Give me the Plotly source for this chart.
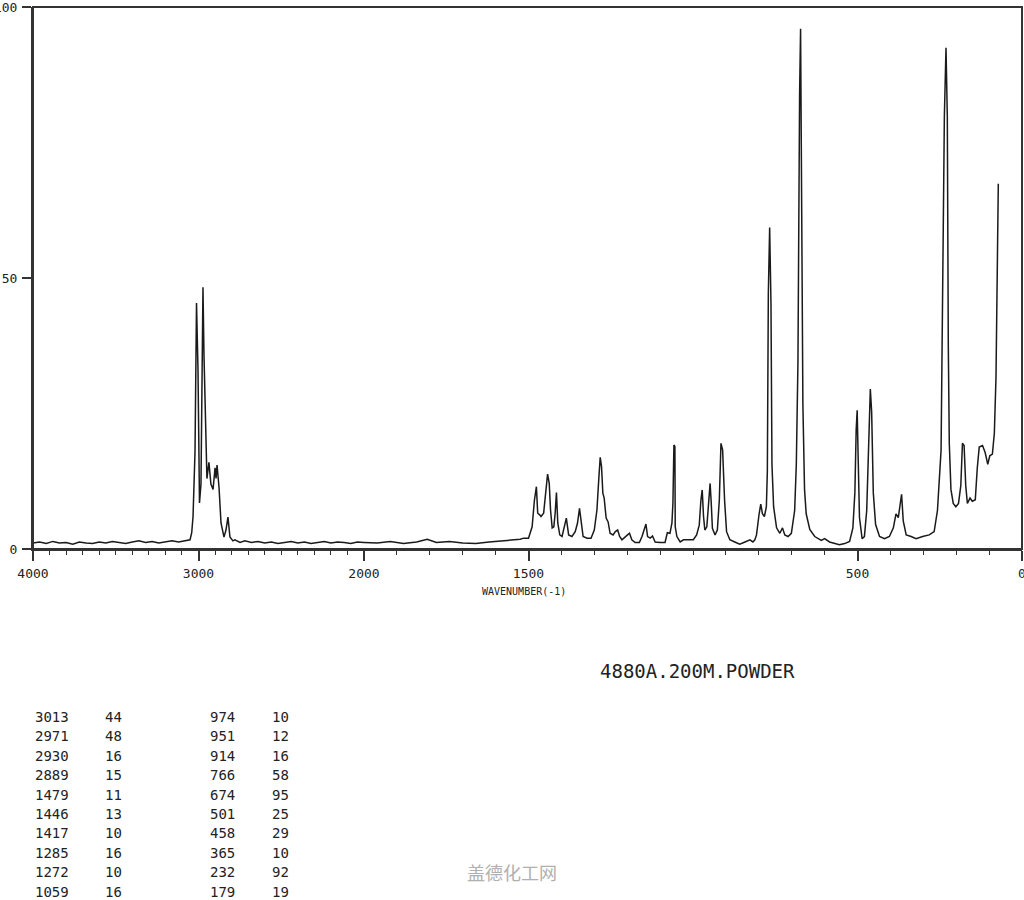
import plotly.graph_objects as go

# ---- spectrum, high-wavenumber part (4000 -> 2000 cm-1, compressed scale)
wn_high = [4000, 3960, 3920, 3880, 3840, 3800, 3760, 3720, 3680, 3640,
           3600, 3560, 3520, 3480, 3440, 3400, 3360, 3320, 3280, 3240,
           3200, 3160, 3120, 3080,
           3051, 3041, 3033, 3021, 3012, 3003, 2994, 2985, 2979, 2973,
           2967, 2961, 2955, 2949, 2943, 2937, 2931, 2925, 2912, 2900,
           2894, 2888, 2876, 2864, 2846, 2834, 2822, 2810, 2792, 2780,
           2749, 2720,
           2680, 2640, 2600, 2560, 2520, 2480, 2440, 2400, 2360, 2320,
           2280, 2240, 2200, 2160, 2120, 2080, 2040, 2000]
int_high = [1.1, 1.3, 1.0, 1.4, 1.1, 1.2, 0.9, 1.3, 1.1, 1.0,
            1.3, 1.1, 1.4, 1.2, 1.0, 1.3, 1.5, 1.2, 1.4, 1.1,
            1.3, 1.5, 1.3, 1.6,
            1.7, 3.0, 6.0, 18.0, 45.4, 33.0, 8.5, 12.0, 30.0, 48.3,
            36.0, 27.0, 19.5, 13.0, 14.5, 16.0, 14.0, 12.0, 11.0, 15.0,
            13.0, 15.5, 11.4, 4.8, 2.2, 3.5, 5.9, 2.2, 1.5, 1.7,
            1.2, 1.5,
            1.2, 1.4, 1.1, 1.3, 1.0, 1.2, 1.4, 1.1, 1.3, 1.0,
            1.2, 1.4, 1.1, 1.3, 1.2, 1.0, 1.3, 1.2]

# ---- spectrum, low-wavenumber part (2000 -> 0 cm-1, expanded scale)
wn_low = [2000, 1960, 1920, 1880, 1840, 1808, 1780, 1740, 1700, 1660,
          1620, 1580, 1545, 1525, 1515, 1500, 1489, 1482, 1476, 1472,
          1466, 1462, 1454, 1448, 1442, 1437, 1433, 1428, 1423, 1419,
          1415, 1411, 1405, 1398, 1391, 1385, 1378, 1368, 1358, 1351,
          1345, 1339, 1334, 1322, 1310, 1300, 1292, 1286, 1282, 1278,
          1274, 1270, 1264, 1258, 1252, 1243, 1236, 1229, 1223, 1216,
          1209, 1199, 1193, 1186, 1176, 1163, 1155, 1148, 1143, 1138,
          1130, 1123, 1115, 1100, 1085, 1078, 1070, 1064, 1061, 1058,
          1055, 1054, 1049, 1039, 1029, 1019, 999, 989, 981, 976,
          972, 968, 964, 958, 952, 948, 945, 941, 933, 926,
          920, 915, 910, 904, 898, 888, 873, 858, 842, 827,
          818, 812, 807, 802, 799, 794, 789, 783, 777, 774,
          771, 767, 763, 760, 755, 746, 736, 728, 721, 711,
          701, 691, 686, 681, 678, 676, 673, 670, 666, 661,
          656, 645, 630, 610, 600, 585, 570, 555, 539, 524,
          514, 508, 504, 501, 498, 494, 486, 479, 472, 466,
          461, 457, 452, 445, 433, 418, 403, 391, 383, 376,
          371, 366, 361, 352, 337, 322, 302, 282, 267, 257,
          246, 241, 236, 231, 227, 224, 221, 216, 209, 201,
          193, 186, 181, 176, 171, 166, 158, 151, 142, 136,
          130, 120, 112, 104, 98, 90, 84, 79, 75, 72]
int_low = [1.2, 1.1, 1.4, 1.0, 1.3, 1.8, 1.2, 1.4, 1.1, 1.0,
           1.3, 1.5, 1.7, 1.8, 2.0, 2.0, 4.1, 9.0, 11.5, 6.6,
           6.3, 6.0, 6.6, 10.3, 13.8, 12.1, 7.2, 3.9, 4.1, 6.6,
           10.4, 4.8, 2.6, 2.3, 3.9, 5.7, 2.6, 2.3, 3.2, 4.8,
           7.5, 4.1, 2.3, 2.0, 2.0, 3.5, 7.2, 13.3, 16.9, 15.2,
           10.3, 9.4, 5.7, 5.0, 2.9, 2.6, 3.2, 3.5, 2.3, 1.7,
           2.0, 2.6, 2.9, 1.7, 1.2, 1.2, 2.3, 3.5, 4.6, 2.3,
           2.0, 2.4, 1.3, 1.2, 1.2, 3.0, 2.9, 4.8, 8.5, 19.2,
           18.9, 4.1, 2.3, 1.3, 1.7, 1.7, 1.7, 2.6, 4.4, 9.0,
           10.9, 6.0, 3.5, 4.1, 8.4, 12.1, 9.0, 3.8, 2.6, 3.5,
           9.0, 19.5, 18.3, 9.0, 3.2, 1.7, 1.3, 0.9, 1.3, 1.7,
           1.3, 1.7, 2.6, 6.0, 6.5, 8.3, 6.5, 6.0, 7.8, 14.3,
           47.3, 59.3, 45.4, 15.6, 7.8, 3.9, 2.9, 3.9, 2.6, 2.3,
           2.9, 7.1, 15.6, 34.4, 73.9, 84.0, 96.0, 73.3, 26.6, 11.0,
           6.5, 3.6, 2.3, 1.6, 1.9, 1.3, 1.0, 0.8, 1.0, 1.4,
           3.9, 10.4, 22.0, 25.6, 16.9, 5.8, 1.9, 2.3, 7.1, 20.1,
           29.5, 25.3, 10.4, 4.5, 2.3, 1.9, 2.3, 3.9, 6.5, 5.8,
           7.8, 10.1, 5.2, 2.6, 2.3, 1.9, 2.3, 2.6, 3.2, 7.1,
           18.2, 49.3, 79.8, 92.5, 79.8, 37.6, 19.5, 11.0, 8.4, 7.8,
           8.4, 11.7, 19.5, 19.1, 11.7, 8.4, 9.4, 8.8, 9.1, 14.9,
           18.8, 19.1, 17.8, 15.6, 17.2, 17.5, 21.4, 31.8, 59.0, 67.4]

assert len(wn_high) == len(int_high)
assert len(wn_low) == len(int_low)

# ---- axis ticks
x_high_ticks = [4000, 3000, 2000]
x_low_ticks = [1500, 500, 0]
y_ticks = [0, 50, 100]

# ---- peak table
peak_wn_1 = ["3013", "2971", "2930", "2889", "1479", "1446", "1417", "1285", "1272", "1059"]
peak_int_1 = ["44", "48", "16", "15", "11", "13", "10", "16", "10", "16"]
peak_wn_2 = ["974", "951", "914", "766", "674", "501", "458", "365", "232", "179"]
peak_int_2 = ["10", "12", "16", "58", "95", "25", "29", "10", "92", "19"]

sample_label = "4880A.200M.POWDER"
x_title = "WAVENUMBER(-1)"
watermark = "盖德化工网"

# ---- geometry (pixels)
W, H = 1024, 900
L, R, T, B = 33, 1022, 7, 549
split_px = 364
pw, ph = R - L, B - T


def px(x):
    return (x - L) / pw


def py(y):
    return (B - y) / ph


LINE = "#1a1a1a"
AX = "#333333"
MONO = "DejaVu Sans Mono"

fig = go.Figure()
fig.add_trace(go.Scatter(x=wn_high, y=int_high, mode="lines", xaxis="x", yaxis="y",
                         line=dict(color=LINE, width=1.5), showlegend=False,
                         hoverinfo="skip"))
fig.add_trace(go.Scatter(x=wn_low, y=int_low, mode="lines", xaxis="x2", yaxis="y",
                         line=dict(color=LINE, width=1.5), showlegend=False,
                         hoverinfo="skip"))

common_x = dict(showgrid=False, zeroline=False, showline=True, linecolor=AX,
                linewidth=2, mirror=False, ticks="outside", ticklen=10,
                tickwidth=1.5, tickcolor=AX, ticklabelstandoff=1,
                automargin=False, ticklabeloverflow="allow",
                tickfont=dict(family=MONO, size=13, color="#222"),
                minor=dict(ticks="outside", ticklen=4, tickwidth=1.2,
                           tickcolor=AX, dtick=100, tick0=0, showgrid=False))

annotations = [
    dict(x=px(524), y=py(591), xref="paper", yref="paper", text=x_title,
         xanchor="center", yanchor="middle",
         showarrow=False, font=dict(family=MONO, size=10, color="#222")),
    dict(x=px(697), y=py(671), xref="paper", yref="paper", text=sample_label,
         xanchor="center", yanchor="middle",
         showarrow=False, font=dict(family=MONO, size=19, color="#222")),
    dict(x=px(512), y=py(872), xref="paper", yref="paper", text=watermark,
         xanchor="center", yanchor="middle",
         showarrow=False, font=dict(family="Noto Sans CJK SC", size=18, color="#b0b0b0")),
]
cols = [(peak_wn_1, 33), (peak_int_1, 103), (peak_wn_2, 208), (peak_int_2, 270)]
for vals, xpx in cols:
    for i, v in enumerate(vals):
        annotations.append(dict(x=px(xpx), y=py(717 + 19.4 * i), xref="paper", yref="paper",
                                text=v, showarrow=False, xanchor="left", yanchor="middle",
                                font=dict(family=MONO, size=14, color="#222")))

fig.update_layout(
    width=W, height=H,
    margin=dict(l=L, r=W - R, t=T, b=H - B, pad=0, autoexpand=False),
    paper_bgcolor="white", plot_bgcolor="white",
    xaxis=dict(domain=[0, px(split_px)], range=[4000, 2000], anchor="y",
               tickmode="array", tickvals=x_high_ticks,
               ticktext=[str(v) for v in x_high_ticks], **common_x),
    xaxis2=dict(domain=[px(split_px), 1], range=[2000, 0], anchor="y",
                tickmode="array", tickvals=x_low_ticks,
                ticktext=[str(v) for v in x_low_ticks], **common_x),
    yaxis=dict(range=[0, 100], showgrid=False, zeroline=False, showline=True,
               linecolor=AX, linewidth=2, mirror=False, ticks="outside",
               ticklen=9, tickwidth=1.5, tickcolor=AX, tickmode="array",
               tickvals=y_ticks, ticktext=[str(v) for v in y_ticks],
               ticklabelstandoff=2, automargin=False, ticklabeloverflow="allow",
               tickfont=dict(family=MONO, size=13, color="#222")),
    shapes=[dict(type="rect", xref="paper", yref="paper", x0=0, x1=1, y0=0, y1=1,
                 line=dict(color=AX, width=2), fillcolor="rgba(0,0,0,0)", layer="above")],
    annotations=annotations,
)

fig.write_html("out.html", config={"displayModeBar": False},
               post_script="document.body.style.margin='0';document.body.style.padding='0';")
